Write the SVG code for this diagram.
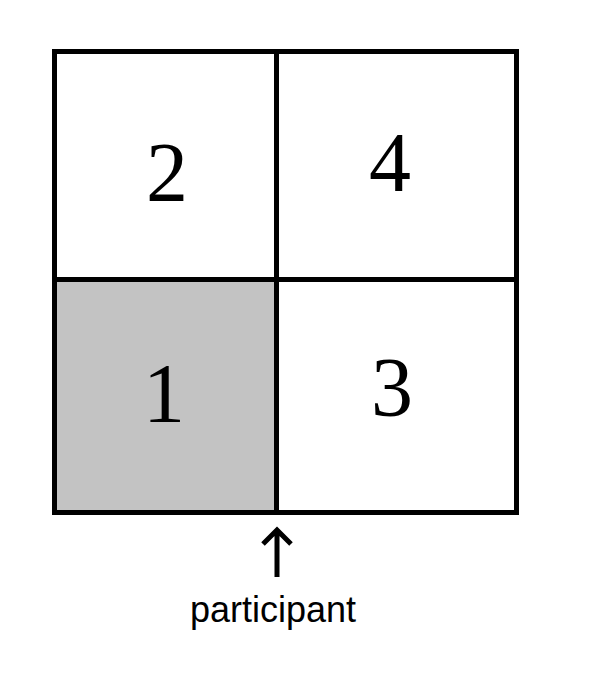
<svg xmlns="http://www.w3.org/2000/svg" width="592" height="673" viewBox="0 0 592 673">
<style>
.line{stroke:#000;stroke-width:5;fill:none}
.num{font-family:"Liberation Serif","Times New Roman",serif;font-size:84px;fill:#000;text-anchor:middle}
.lbl{font-family:"Liberation Sans",Arial,sans-serif;font-size:36px;fill:#000;text-anchor:middle}
</style>
<rect width="592" height="673" fill="#fff"/>
<g id="cell1"><rect x="55" y="280" width="221" height="232" fill="#c3c3c3"/><text class="num" x="164" y="422">1</text></g>
<g id="cell2"><text class="num" x="167" y="201">2</text></g>
<g id="cell3"><text class="num" x="392" y="416">3</text></g>
<g id="cell4"><text class="num" x="390" y="191">4</text></g>
<g id="grid">
<rect class="line" x="54.5" y="51.5" width="462" height="461"/>
<line class="line" x1="276.5" y1="51.5" x2="276.5" y2="512.5"/>
<line class="line" x1="54.5" y1="279.5" x2="516.5" y2="279.5"/>
</g>
<g id="connectors">
<path class="line" d="M277 577 V531 M263 544 L277 530 L291 544" stroke-width="4.5"/>
</g>
<g id="participant"><text class="lbl" x="273" y="622">participant</text></g>
</svg>
